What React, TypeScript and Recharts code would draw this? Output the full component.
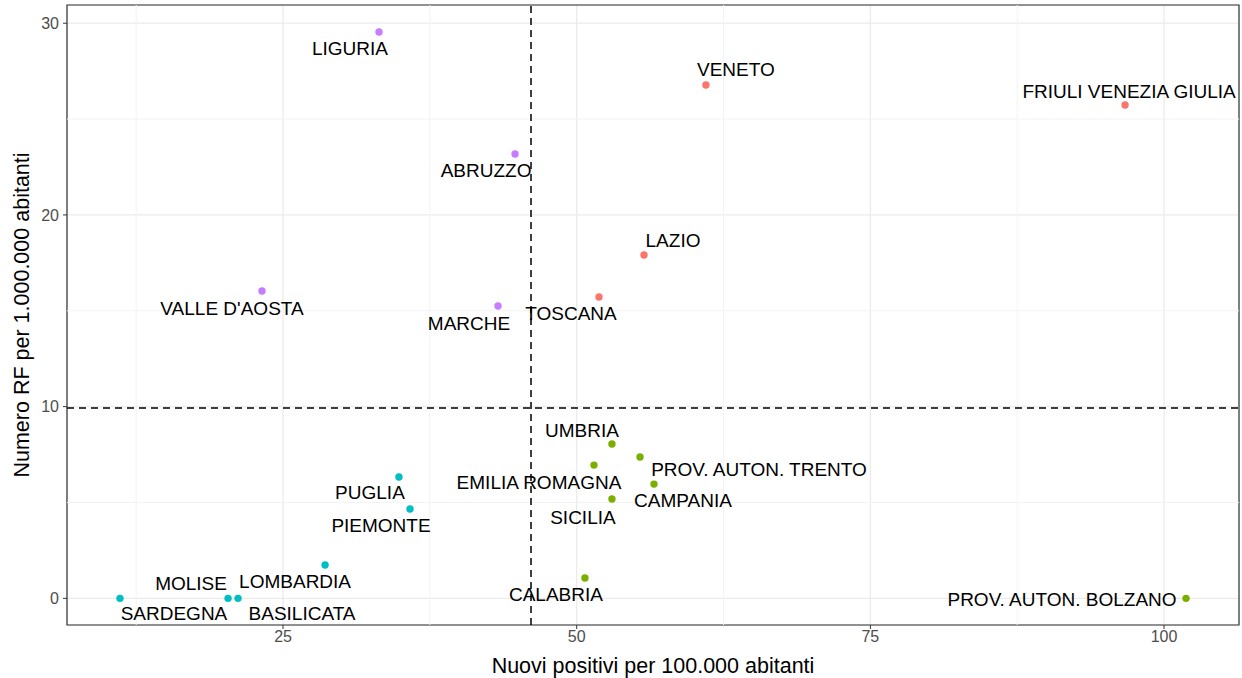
import React from "react";
import {
  ScatterChart,
  Scatter,
  XAxis,
  YAxis,
  CartesianGrid,
  ReferenceLine,
  ReferenceArea,
} from "recharts";

const FONT = "'Liberation Sans', Arial, sans-serif";

// regions per group (colour group as in the original ggplot)
const redNames = ["VENETO", "FRIULI VENEZIA GIULIA", "LAZIO", "TOSCANA"];
const redX = [61.0, 96.68, 55.73, 51.9];
const redY = [26.78, 25.73, 17.91, 15.72];

const purpleNames = ["LIGURIA", "ABRUZZO", "VALLE D'AOSTA", "MARCHE"];
const purpleX = [33.17, 44.75, 23.21, 43.3];
const purpleY = [29.54, 23.18, 16.03, 15.25];

const greenNames = [
  "UMBRIA",
  "PROV. AUTON. TRENTO",
  "EMILIA ROMAGNA",
  "CAMPANIA",
  "SICILIA",
  "CALABRIA",
  "PROV. AUTON. BOLZANO",
];
const greenX = [53.0, 55.39, 51.47, 56.58, 53.0, 50.7, 101.87];
const greenY = [8.05, 7.37, 6.95, 5.96, 5.18, 1.06, 0];

const cyanNames = ["PUGLIA", "PIEMONTE", "LOMBARDIA", "MOLISE", "BASILICATA", "SARDEGNA"];
const cyanX = [34.87, 35.81, 28.58, 20.32, 21.17, 11.12];
const cyanY = [6.33, 4.66, 1.74, 0, 0, 0];

const xTicks = [25, 50, 75, 100];
const yTicks = [0, 10, 20, 30];
const xMinor = [12.5, 37.5, 62.5, 87.5];
const yMinor = [5, 15, 25];
const xDomain: [number, number] = [6.61, 106.38];
const yDomain: [number, number] = [-1.39, 30.95];
const xCut = 46.11;
const yCut = 9.93;

// label offsets in px (repelled text position relative to the point)
const labelOffset: Record<string, [number, number]> = {
  VENETO: [30, -15],
  "FRIULI VENEZIA GIULIA": [4, -14],
  LAZIO: [29, -14],
  TOSCANA: [-28, 17],
  LIGURIA: [-29, 16],
  ABRUZZO: [-29, 17],
  "VALLE D'AOSTA": [-30, 17],
  MARCHE: [-29, 18],
  UMBRIA: [-30, -14],
  "PROV. AUTON. TRENTO": [119, 12],
  "EMILIA ROMAGNA": [-55, 17],
  CAMPANIA: [29, 16],
  SICILIA: [-29, 18],
  CALABRIA: [-29, 16],
  "PROV. AUTON. BOLZANO": [-124, 1],
  PUGLIA: [-29, 16],
  PIEMONTE: [-29, 16],
  LOMBARDIA: [-30, 17],
  MOLISE: [-37, -15],
  BASILICATA: [64, 15],
  SARDEGNA: [54, 15],
};

const build = (names: string[], xs: number[], ys: number[]) =>
  names.map((name, i) => ({ name, x: xs[i], y: ys[i] }));

const PointWithLabel = (props: any) => {
  const { cx, cy, fill, payload } = props;
  if (cx == null || cy == null) return null;
  const [dx, dy] = labelOffset[payload.name] ?? [0, -14];
  return (
    <g>
      <circle cx={cx} cy={cy} r={3.7} fill={fill} />
      <text
        x={cx + dx}
        y={cy + dy}
        textAnchor="middle"
        dominantBaseline="central"
        fontSize={19}
        fontFamily={FONT}
        fill="#000"
      >
        {payload.name}
      </text>
    </g>
  );
};

const tickStyle = { fontSize: 16, fill: "#4D4D4D", fontFamily: FONT };

export default function App() {
  return (
    <div style={{ position: "absolute", left: 0, top: 0, background: "#fff" }}>
      <ScatterChart
        width={1242}
        height={678}
        margin={{ top: 5, right: 3, bottom: 0, left: 0 }}
      >
        <CartesianGrid stroke="#EBEBEB" strokeWidth={1.3} />
        {xMinor.map((v) => (
          <ReferenceLine key={"xm" + v} x={v} stroke="#F3F3F3" strokeWidth={1} />
        ))}
        {yMinor.map((v) => (
          <ReferenceLine key={"ym" + v} y={v} stroke="#F3F3F3" strokeWidth={1} />
        ))}
        <XAxis
          type="number"
          dataKey="x"
          domain={xDomain}
          ticks={xTicks}
          allowDataOverflow
          height={53}
          axisLine={false}
          tickLine={{ stroke: "#333" }}
          tickSize={4}
          tickMargin={2}
          tick={tickStyle}
          label={{
            value: "Nuovi positivi per 100.000 abitanti",
            position: "insideBottom",
            offset: 5,
            style: { fontSize: 21.5, fill: "#000", fontFamily: FONT },
          }}
        />
        <YAxis
          type="number"
          dataKey="y"
          domain={yDomain}
          ticks={yTicks}
          allowDataOverflow
          width={67}
          axisLine={false}
          tickLine={{ stroke: "#333" }}
          tickSize={4}
          tickMargin={4}
          tick={tickStyle}
          label={{
            value: "Numero RF per 1.000.000 abitanti",
            angle: -90,
            position: "insideLeft",
            offset: 21,
            style: { fontSize: 21.5, fill: "#000", fontFamily: FONT, textAnchor: "middle" },
          }}
        />
        <ReferenceLine x={xCut} stroke="#000" strokeWidth={1.5} strokeDasharray="7 5" />
        <ReferenceLine y={yCut} stroke="#000" strokeWidth={1.5} strokeDasharray="7 5" />
        <ReferenceArea
          x1={xDomain[0]}
          x2={xDomain[1]}
          y1={yDomain[0]}
          y2={yDomain[1]}
          fill="none"
          stroke="#333"
          strokeWidth={1.2}
          ifOverflow="visible"
        />
        <Scatter data={build(redNames, redX, redY)} fill="#F8766D" shape={(p: any) => <PointWithLabel {...p} />} isAnimationActive={false} />
        <Scatter data={build(purpleNames, purpleX, purpleY)} fill="#C77CFF" shape={(p: any) => <PointWithLabel {...p} />} isAnimationActive={false} />
        <Scatter data={build(greenNames, greenX, greenY)} fill="#7CAE00" shape={(p: any) => <PointWithLabel {...p} />} isAnimationActive={false} />
        <Scatter data={build(cyanNames, cyanX, cyanY)} fill="#00BFC4" shape={(p: any) => <PointWithLabel {...p} />} isAnimationActive={false} />
      </ScatterChart>
    </div>
  );
}
